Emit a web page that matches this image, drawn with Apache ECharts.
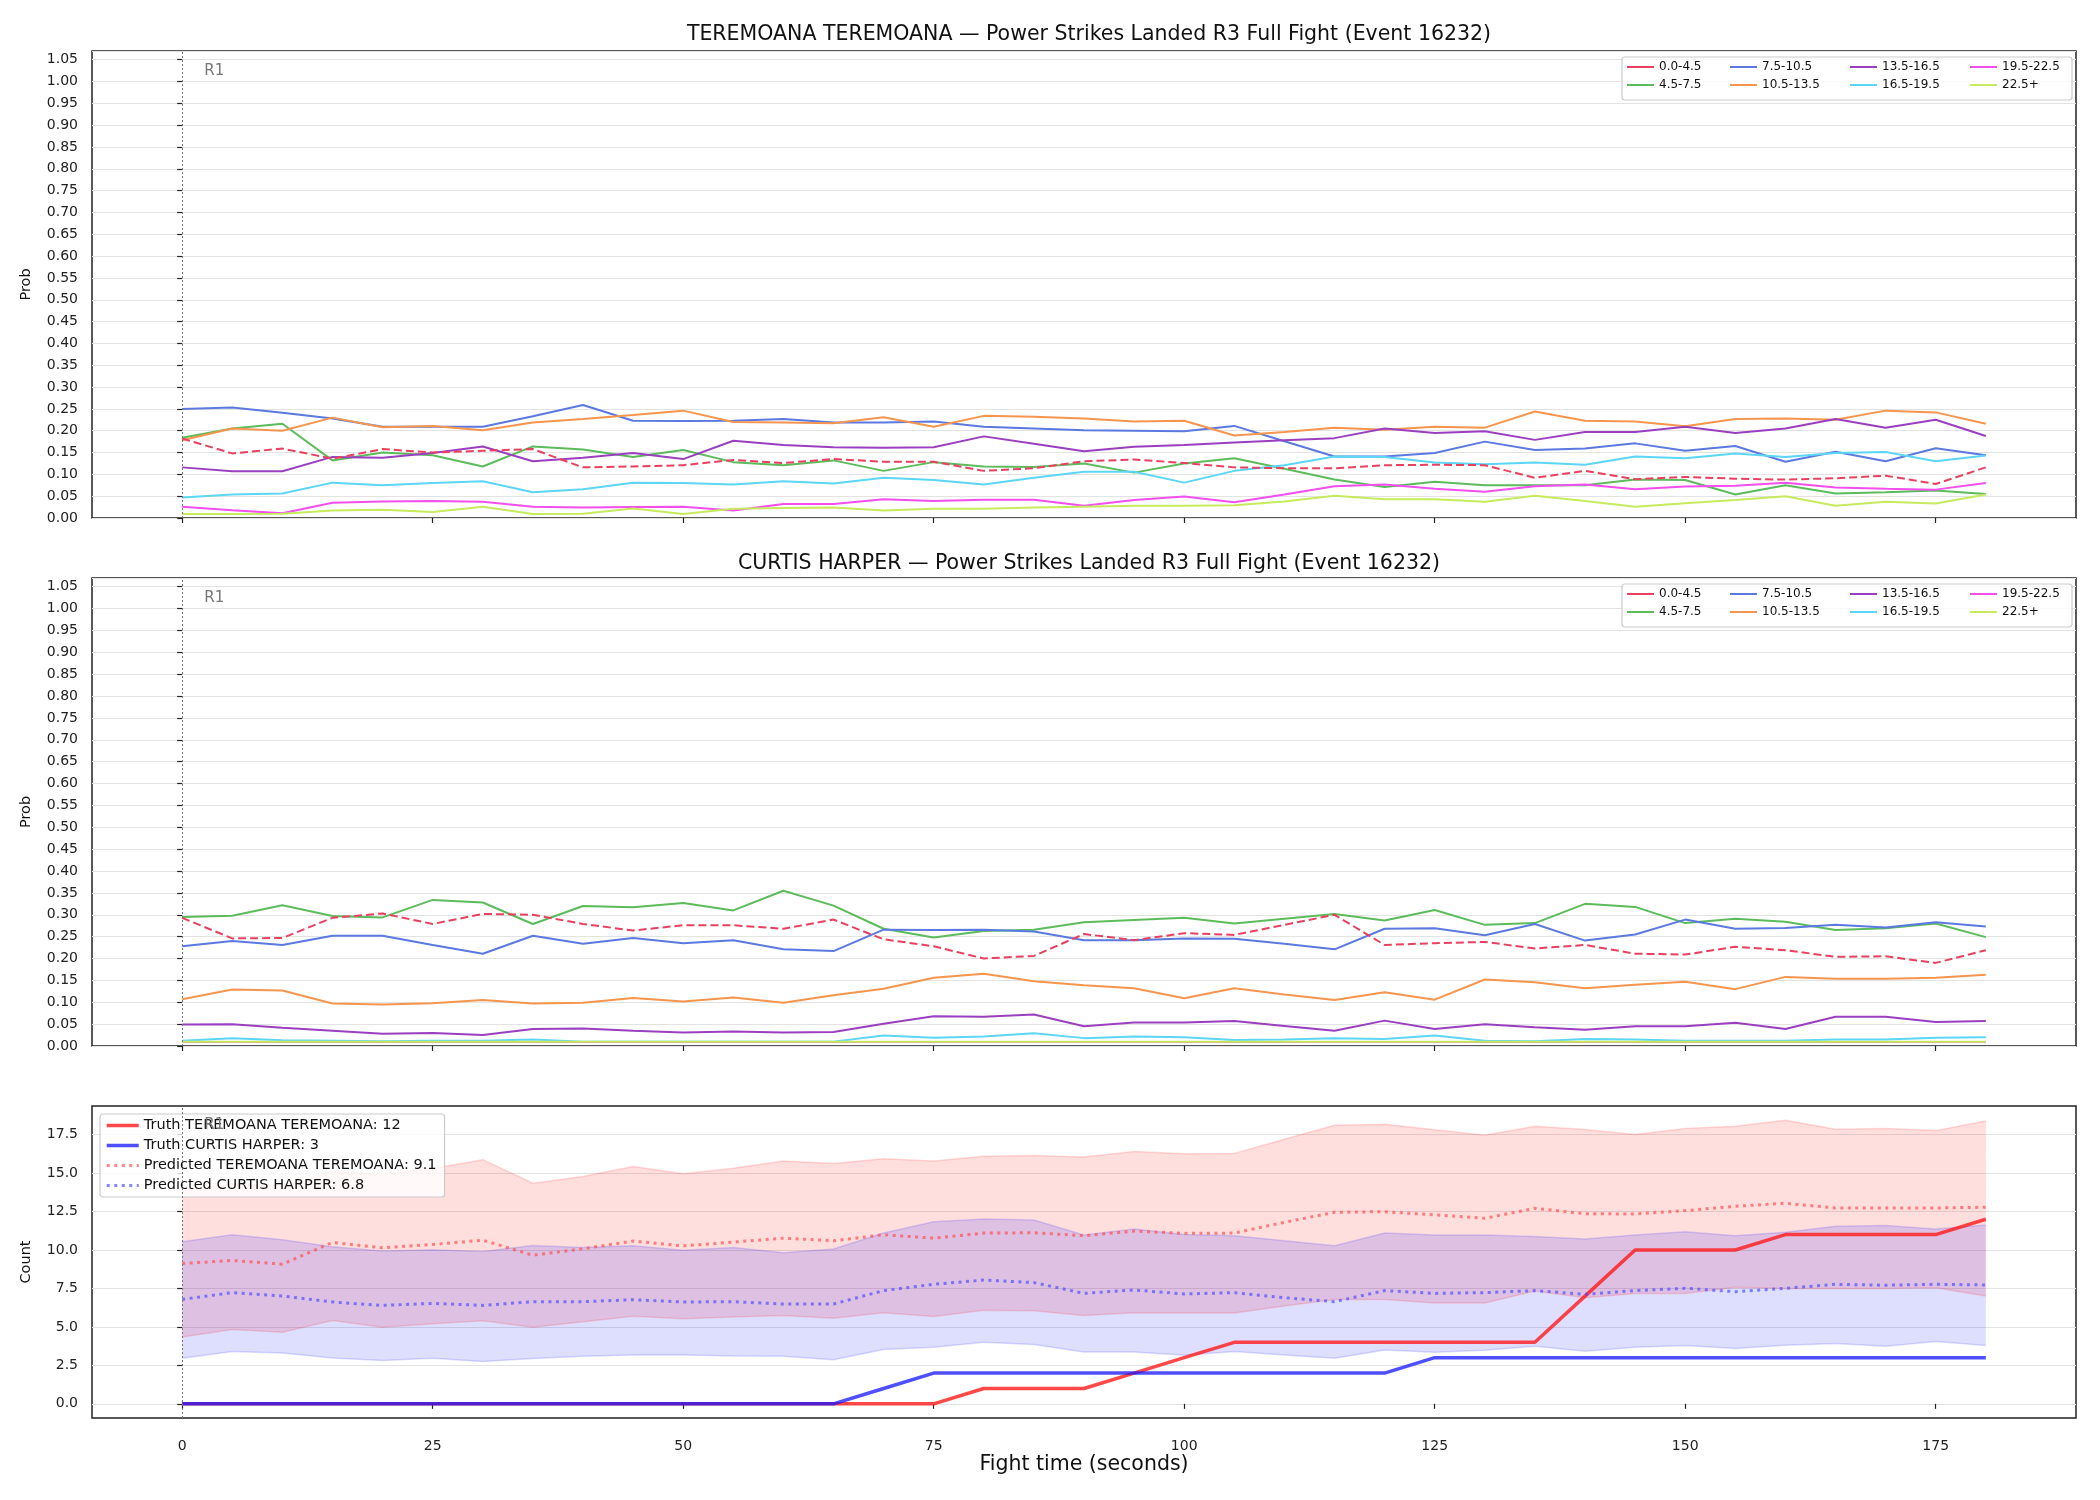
<!DOCTYPE html>
<html>
<head>
<meta charset="utf-8">
<script src="https://cdn.jsdelivr.net/npm/echarts@6/dist/echarts.min.js"></script>
<style>
html, body { margin: 0; padding: 0; background: #fff; }
#main { width: 2100px; height: 1500px; }
</style>
</head>
<body>
<div id="main"></div>
<script>
// fight time in seconds, one sample every 5 s
var times = [0, 5, 10, 15, 20, 25, 30, 35, 40, 45, 50, 55, 60, 65, 70, 75, 80, 85, 90,
    95, 100, 105, 110, 115, 120, 125, 130, 135, 140, 145, 150, 155, 160, 165, 170, 175, 180];

var binNames = ['0.0-4.5', '4.5-7.5', '7.5-10.5', '10.5-13.5', '13.5-16.5', '16.5-19.5', '19.5-22.5', '22.5+'];

// -------------------- TEREMOANA TEREMOANA bin probabilities --------------------
var teremoana0 = [0.182, 0.148, 0.159, 0.136, 0.158, 0.150, 0.154, 0.158, 0.116, 0.118, 0.121, 0.133, 0.126, 0.135, 0.129, 0.129, 0.108, 0.114,
    0.130, 0.134, 0.126, 0.116, 0.114, 0.114, 0.121, 0.122, 0.121, 0.092, 0.108, 0.089, 0.094, 0.090, 0.088, 0.091, 0.097, 0.078, 0.116];
var teremoana1 = [0.184, 0.205, 0.216, 0.132, 0.150, 0.144, 0.118, 0.164, 0.157, 0.140, 0.156, 0.128, 0.121, 0.132, 0.108, 0.128, 0.118, 0.117,
    0.125, 0.104, 0.125, 0.137, 0.113, 0.088, 0.071, 0.083, 0.075, 0.075, 0.075, 0.088, 0.087, 0.054, 0.075, 0.056, 0.059, 0.063, 0.055];
var teremoana2 = [0.250, 0.253, 0.241, 0.228, 0.209, 0.209, 0.209, 0.233, 0.259, 0.223, 0.222, 0.223, 0.227, 0.219, 0.219, 0.221, 0.209, 0.205,
    0.201, 0.200, 0.199, 0.211, 0.176, 0.141, 0.141, 0.149, 0.175, 0.156, 0.159, 0.171, 0.154, 0.165, 0.129, 0.152, 0.130, 0.160, 0.144];
var teremoana3 = [0.178, 0.205, 0.200, 0.230, 0.208, 0.211, 0.201, 0.219, 0.227, 0.236, 0.246, 0.220, 0.219, 0.217, 0.231, 0.209, 0.234, 0.232,
    0.228, 0.221, 0.223, 0.189, 0.197, 0.207, 0.202, 0.209, 0.207, 0.244, 0.223, 0.221, 0.210, 0.227, 0.228, 0.225, 0.246, 0.242, 0.216];
var teremoana4 = [0.116, 0.107, 0.107, 0.140, 0.138, 0.149, 0.164, 0.130, 0.138, 0.149, 0.135, 0.177, 0.167, 0.162, 0.161, 0.162, 0.187, 0.170,
    0.153, 0.163, 0.167, 0.173, 0.178, 0.183, 0.205, 0.195, 0.199, 0.179, 0.197, 0.197, 0.209, 0.195, 0.205, 0.227, 0.207, 0.225, 0.188];
var teremoana5 = [0.047, 0.054, 0.056, 0.081, 0.075, 0.080, 0.084, 0.059, 0.066, 0.081, 0.080, 0.077, 0.084, 0.079, 0.092, 0.087, 0.077, 0.092,
    0.106, 0.106, 0.081, 0.108, 0.121, 0.141, 0.140, 0.127, 0.123, 0.127, 0.122, 0.141, 0.137, 0.148, 0.140, 0.149, 0.151, 0.130, 0.143];
var teremoana6 = [0.026, 0.018, 0.011, 0.035, 0.038, 0.039, 0.037, 0.026, 0.024, 0.025, 0.026, 0.017, 0.032, 0.032, 0.043, 0.039, 0.042, 0.042,
    0.028, 0.041, 0.049, 0.036, 0.054, 0.073, 0.077, 0.067, 0.060, 0.073, 0.077, 0.066, 0.072, 0.074, 0.081, 0.070, 0.067, 0.065, 0.080];
var teremoana7 = [0.009, 0.009, 0.010, 0.017, 0.019, 0.014, 0.026, 0.009, 0.010, 0.022, 0.009, 0.021, 0.023, 0.024, 0.017, 0.021, 0.021, 0.024,
    0.026, 0.028, 0.028, 0.029, 0.038, 0.051, 0.043, 0.043, 0.037, 0.051, 0.039, 0.026, 0.034, 0.041, 0.050, 0.028, 0.037, 0.033, 0.054];

// -------------------- CURTIS HARPER bin probabilities --------------------
var harper0 = [0.293, 0.246, 0.247, 0.293, 0.303, 0.279, 0.302, 0.300, 0.279, 0.264, 0.276, 0.276, 0.268, 0.289, 0.244, 0.228, 0.200, 0.206,
    0.256, 0.242, 0.258, 0.254, 0.277, 0.300, 0.231, 0.235, 0.238, 0.223, 0.231, 0.211, 0.209, 0.227, 0.219, 0.204, 0.205, 0.190, 0.219];
var harper1 = [0.295, 0.298, 0.322, 0.297, 0.294, 0.334, 0.328, 0.279, 0.320, 0.317, 0.327, 0.310, 0.355, 0.321, 0.268, 0.248, 0.263, 0.266,
    0.283, 0.288, 0.293, 0.280, 0.291, 0.302, 0.287, 0.311, 0.277, 0.281, 0.325, 0.318, 0.281, 0.291, 0.284, 0.265, 0.269, 0.280, 0.249];
var harper2 = [0.228, 0.240, 0.231, 0.252, 0.252, 0.231, 0.211, 0.252, 0.234, 0.247, 0.235, 0.242, 0.221, 0.217, 0.266, 0.265, 0.266, 0.262,
    0.242, 0.242, 0.246, 0.245, 0.234, 0.221, 0.268, 0.269, 0.253, 0.279, 0.241, 0.255, 0.289, 0.268, 0.270, 0.277, 0.271, 0.283, 0.273];
var harper3 = [0.107, 0.129, 0.127, 0.097, 0.095, 0.098, 0.105, 0.097, 0.099, 0.110, 0.102, 0.111, 0.099, 0.116, 0.131, 0.156, 0.165, 0.148,
    0.139, 0.132, 0.109, 0.132, 0.118, 0.105, 0.123, 0.106, 0.152, 0.146, 0.132, 0.140, 0.147, 0.130, 0.158, 0.154, 0.154, 0.156, 0.163];
var harper4 = [0.049, 0.050, 0.042, 0.035, 0.028, 0.030, 0.025, 0.039, 0.040, 0.035, 0.031, 0.033, 0.031, 0.032, 0.051, 0.068, 0.067, 0.072,
    0.045, 0.054, 0.054, 0.057, 0.046, 0.035, 0.058, 0.039, 0.050, 0.043, 0.037, 0.045, 0.045, 0.053, 0.039, 0.067, 0.067, 0.055, 0.057];
var harper5 = [0.012, 0.018, 0.013, 0.012, 0.011, 0.012, 0.012, 0.015, 0.010, 0.010, 0.010, 0.010, 0.010, 0.010, 0.024, 0.019, 0.022, 0.029,
    0.018, 0.022, 0.020, 0.014, 0.015, 0.018, 0.016, 0.024, 0.012, 0.011, 0.016, 0.015, 0.012, 0.012, 0.012, 0.015, 0.015, 0.019, 0.020];
var harper6 = [0.009, 0.009, 0.009, 0.009, 0.009, 0.009, 0.009, 0.009, 0.009, 0.009, 0.009, 0.009, 0.009, 0.009, 0.009, 0.009, 0.009, 0.009,
    0.009, 0.009, 0.009, 0.009, 0.009, 0.009, 0.009, 0.009, 0.009, 0.009, 0.009, 0.009, 0.009, 0.009, 0.009, 0.009, 0.009, 0.009, 0.009];
var harper7 = [0.010, 0.010, 0.010, 0.010, 0.010, 0.010, 0.010, 0.010, 0.010, 0.010, 0.010, 0.010, 0.010, 0.010, 0.010, 0.010, 0.010, 0.010,
    0.010, 0.010, 0.010, 0.010, 0.010, 0.010, 0.010, 0.010, 0.010, 0.010, 0.010, 0.010, 0.010, 0.010, 0.010, 0.010, 0.010, 0.010, 0.010];

// -------------------- cumulative counts --------------------
var truthTeremoana = [0, 0, 0, 0, 0, 0, 0, 0, 0, 0, 0, 0, 0, 0, 0, 0, 1, 1, 1,
    2, 3, 4, 4, 4, 4, 4, 4, 4, 7, 10, 10, 10, 11, 11, 11, 11, 12];
var truthHarper = [0, 0, 0, 0, 0, 0, 0, 0, 0, 0, 0, 0, 0, 0, 1, 2, 2, 2, 2,
    2, 2, 2, 2, 2, 2, 3, 3, 3, 3, 3, 3, 3, 3, 3, 3, 3, 3];
var predTeremoana = [9.12, 9.32, 9.08, 10.49, 10.14, 10.36, 10.64, 9.66, 10.08, 10.58, 10.27, 10.51, 10.77, 10.60, 10.99, 10.77, 11.10, 11.12,
    10.93, 11.23, 11.08, 11.10, 11.80, 12.45, 12.49, 12.28, 12.06, 12.71, 12.36, 12.34, 12.56, 12.84, 13.04, 12.73, 12.73, 12.73, 12.78];
var predHarper = [6.79, 7.23, 7.01, 6.62, 6.40, 6.53, 6.40, 6.64, 6.64, 6.77, 6.62, 6.64, 6.49, 6.49, 7.36, 7.77, 8.05, 7.88,
    7.18, 7.40, 7.14, 7.23, 6.90, 6.64, 7.36, 7.18, 7.23, 7.36, 7.12, 7.36, 7.51, 7.29, 7.51, 7.77, 7.71, 7.77, 7.73];
var hiTeremoana = [13.9, 14.3, 14.2, 15.1, 14.9, 15.3, 15.87, 14.34, 14.78, 15.43, 14.95, 15.32, 15.78, 15.63, 15.93, 15.78, 16.09, 16.15,
    16.04, 16.41, 16.26, 16.28, 17.20, 18.11, 18.18, 17.81, 17.46, 18.05, 17.83, 17.50, 17.89, 18.05, 18.44, 17.85, 17.89, 17.76, 18.39];
var loTeremoana = [4.35, 4.83, 4.66, 5.42, 4.98, 5.20, 5.40, 4.98, 5.33, 5.70, 5.53, 5.64, 5.75, 5.57, 5.92, 5.68, 6.09, 6.05,
    5.75, 5.92, 5.90, 5.90, 6.36, 6.79, 6.79, 6.55, 6.55, 7.34, 6.90, 7.18, 7.18, 7.58, 7.49, 7.49, 7.49, 7.55, 7.01];
var hiHarper = [10.54, 10.99, 10.67, 10.21, 9.93, 10.01, 9.90, 10.30, 10.17, 10.27, 9.99, 10.17, 9.82, 10.06, 11.10, 11.84, 12.02, 11.95,
    10.97, 11.36, 11.01, 10.93, 10.60, 10.27, 11.10, 10.97, 10.97, 10.88, 10.71, 10.97, 11.19, 10.93, 11.15, 11.54, 11.60, 11.36, 11.62];
var loHarper = [2.96, 3.40, 3.31, 2.98, 2.81, 2.96, 2.76, 2.94, 3.09, 3.18, 3.18, 3.11, 3.09, 2.87, 3.53, 3.68, 4.01, 3.85,
    3.37, 3.37, 3.16, 3.40, 3.18, 2.96, 3.50, 3.35, 3.48, 3.74, 3.42, 3.68, 3.79, 3.59, 3.81, 3.92, 3.74, 4.05, 3.79];

var xTicks = [0, 25, 50, 75, 100, 125, 150, 175];
var countTicks = [0, 2.5, 5, 7.5, 10, 12.5, 15, 17.5];

var teremoanaBins = [teremoana0, teremoana1, teremoana2, teremoana3, teremoana4, teremoana5, teremoana6, teremoana7];
var harperBins = [harper0, harper1, harper2, harper3, harper4, harper5, harper6, harper7];

var binColors = ['#e8405e', '#5cbc5c', '#5b79e0', '#f6954e', '#9b3fc1', '#5cd6f4', '#f24fee', '#c6eb5e'];
var font = 'DejaVu Sans';

function pairs(vals) {
    return times.map(function (t, i) { return [t, vals[i]]; });
}

// vertical dotted line at round start + "R1" text
function roundMark(ry) {
    return {
        markLine: {
            silent: true, symbol: 'none', animation: false,
            label: {show: false},
            lineStyle: {color: '#777', type: [2, 2], width: 1},
            data: [{xAxis: 0}]
        },
        markPoint: {
            silent: true, symbol: 'circle', symbolSize: 0, animation: false,
            label: {show: true, position: 'right', distance: 5, formatter: 'R1', color: '#777', fontSize: 15, fontFamily: font},
            data: [{coord: [1.7, ry]}]
        }
    };
}

function binSeries(bins, gridIdx) {
    var out = [];
    for (var i = 0; i < bins.length; i++) {
        var s = {
            name: binNames[i],
            type: 'line',
            xAxisIndex: gridIdx,
            yAxisIndex: gridIdx,
            data: pairs(bins[i]),
            symbol: 'none',
            color: binColors[i],
            lineStyle: {width: 2, color: binColors[i], type: i == 0 ? [8, 4] : 'solid'},
            z: i == 0 ? 3 : 2
        };
        if (i == 0) {
            var m = roundMark(1.025);
            s.markLine = m.markLine;
            s.markPoint = m.markPoint;
        }
        out.push(s);
    }
    return out;
}

function xAxisFor(gridIdx, showLabels) {
    return {
        type: 'value', gridIndex: gridIdx, min: -9, max: 189,
        axisLine: {show: false},
        axisTick: {show: true, length: 5, customValues: xTicks, lineStyle: {color: '#222', width: 1.2}},
        axisLabel: {show: showLabels, customValues: xTicks, fontSize: 14, color: '#222', margin: 21, fontFamily: font},
        splitLine: {show: false},
        name: showLabels ? 'Fight time (seconds)' : '',
        nameLocation: 'middle', nameGap: 36,
        nameTextStyle: {fontSize: 20.5, color: '#111', fontFamily: font}
    };
}

function probAxis(gridIdx) {
    return {
        type: 'value', gridIndex: gridIdx, min: 0, max: 1.07, interval: 0.05,
        axisLine: {show: false},
        axisTick: {show: true, length: 5, lineStyle: {color: '#222', width: 1.2}},
        axisLabel: {fontSize: 14, color: '#222', margin: 14, showMaxLabel: false, fontFamily: font,
            formatter: function (v) { return v.toFixed(2); }},
        splitLine: {lineStyle: {color: '#e3e3e3', width: 1}},
        name: 'Prob', nameLocation: 'middle', nameGap: 58,
        nameTextStyle: {fontSize: 14.5, color: '#111', fontFamily: font}
    };
}

// matplotlib-like 4 column legend: one small vertical legend per column
var legendCols = [1627, 1730, 1850, 1970];
function binLegends(top) {
    var out = [];
    for (var c = 0; c < 4; c++) {
        out.push({
            show: true, left: legendCols[c], top: top, orient: 'vertical',
            padding: 0, itemWidth: 27, itemHeight: 2, itemGap: 6,
            icon: 'rect', z: 10,
            textStyle: {fontSize: 12, color: '#111', fontFamily: font},
            data: [binNames[2 * c], binNames[2 * c + 1]]
        });
    }
    return out;
}

function legendBox(y) {
    return {
        type: 'rect', z: 9, silent: true,
        shape: {x: 1622, y: y, width: 450, height: 43, r: 3},
        style: {fill: 'rgba(255,255,255,0.8)', stroke: '#cccccc', lineWidth: 1.2}
    };
}

// shaded prediction interval, drawn as one polygon through the axis scales
function bandSeries(lo, hi, fill) {
    return {
        type: 'custom', xAxisIndex: 2, yAxisIndex: 2, z: 1, silent: true,
        data: times.map(function (t, i) { return [t, lo[i], hi[i]]; }),
        encode: {x: 0, y: [1, 2]},
        renderItem: function (params, api) {
            if (params.dataIndex !== 0) return null;
            var pts = [];
            for (var i = 0; i < times.length; i++) pts.push(api.coord([times[i], hi[i]]));
            for (var j = times.length - 1; j >= 0; j--) pts.push(api.coord([times[j], lo[j]]));
            return {type: 'polygon', shape: {points: pts}, style: {fill: fill}};
        }
    };
}

function edgeSeries(vals, color) {
    return {
        type: 'line', xAxisIndex: 2, yAxisIndex: 2, symbol: 'none', silent: true, z: 1,
        data: pairs(vals), lineStyle: {color: color, width: 1.5}
    };
}

var bandRed = 'rgba(255,0,0,0.13)';
var bandRedEdge = 'rgba(255,0,0,0.14)';
var bandBlue = 'rgba(0,0,255,0.13)';
var bandBlueEdge = 'rgba(0,0,255,0.14)';

var firstEdge = edgeSeries(loTeremoana, bandRedEdge);
firstEdge.markLine = roundMark(18.1).markLine;
firstEdge.markPoint = roundMark(18.1).markPoint;

var truthRed = 'rgba(255,20,20,0.78)';
var truthBlue = 'rgba(20,20,255,0.75)';
var predRed = 'rgba(255,70,70,0.65)';
var predBlue = 'rgba(70,70,255,0.65)';

var countSeries = [
    bandSeries(loTeremoana, hiTeremoana, bandRed),
    firstEdge,
    edgeSeries(hiTeremoana, bandRedEdge),
    bandSeries(loHarper, hiHarper, bandBlue),
    edgeSeries(loHarper, bandBlueEdge),
    edgeSeries(hiHarper, bandBlueEdge),
    {
        name: 'Truth TEREMOANA TEREMOANA: 12', type: 'line', xAxisIndex: 2, yAxisIndex: 2, symbol: 'none',
        data: pairs(truthTeremoana), color: truthRed,
        lineStyle: {color: truthRed, width: 3.5}, z: 3
    },
    {
        name: 'Truth CURTIS HARPER: 3', type: 'line', xAxisIndex: 2, yAxisIndex: 2, symbol: 'none',
        data: pairs(truthHarper), color: truthBlue,
        lineStyle: {color: truthBlue, width: 3.5}, z: 3
    },
    {
        name: 'Predicted TEREMOANA TEREMOANA: 9.1', type: 'line', xAxisIndex: 2, yAxisIndex: 2, symbol: 'none',
        data: pairs(predTeremoana), color: predRed,
        lineStyle: {color: predRed, width: 3, type: [3, 4.5]}, z: 4
    },
    {
        name: 'Predicted CURTIS HARPER: 6.8', type: 'line', xAxisIndex: 2, yAxisIndex: 2, symbol: 'none',
        data: pairs(predHarper), color: predBlue,
        lineStyle: {color: predBlue, width: 3, type: [3, 4.5]}, z: 4
    }
];

var chart = echarts.init(document.getElementById('main'));
var option = {
    animation: false,
    backgroundColor: '#ffffff',
    textStyle: {fontFamily: font},
    title: [
        {text: 'TEREMOANA TEREMOANA — Power Strikes Landed R3 Full Fight (Event 16232)', left: 1084, top: 19, textAlign: 'center',
            textStyle: {fontSize: 20.5, fontWeight: 'normal', color: '#111', fontFamily: font}},
        {text: 'CURTIS HARPER — Power Strikes Landed R3 Full Fight (Event 16232)', left: 1084, top: 548, textAlign: 'center',
            textStyle: {fontSize: 20.5, fontWeight: 'normal', color: '#111', fontFamily: font}}
    ],
    grid: [
        {left: 92, top: 51, width: 1984, height: 467, show: true, borderColor: '#222', borderWidth: 1.5},
        {left: 92, top: 578, width: 1984, height: 468, show: true, borderColor: '#222', borderWidth: 1.5},
        {left: 92, top: 1106, width: 1984, height: 312, show: true, borderColor: '#222', borderWidth: 1.5}
    ],
    graphic: [legendBox(57), legendBox(584)],
    legend: binLegends(61).concat(binLegends(588)).concat([
        {
            show: true, left: 100, top: 1114, orient: 'vertical',
            padding: [4, 8, 4, 5], itemWidth: 32, itemHeight: 1, itemGap: 5,
            itemStyle: {opacity: 0},
            backgroundColor: 'rgba(255,255,255,0.8)',
            borderColor: '#cccccc', borderWidth: 1.2, borderRadius: 3,
            textStyle: {fontSize: 14.5, color: '#111', fontFamily: font},
            data: [
                {name: 'Truth TEREMOANA TEREMOANA: 12', lineStyle: {width: 3.5, color: truthRed}},
                {name: 'Truth CURTIS HARPER: 3', lineStyle: {width: 3.5, color: truthBlue}},
                {name: 'Predicted TEREMOANA TEREMOANA: 9.1', lineStyle: {width: 3, color: predRed, type: [3, 4.5]}},
                {name: 'Predicted CURTIS HARPER: 6.8', lineStyle: {width: 3, color: predBlue, type: [3, 4.5]}}
            ]
        }
    ]),
    xAxis: [xAxisFor(0, false), xAxisFor(1, false), xAxisFor(2, true)],
    yAxis: [
        probAxis(0),
        probAxis(1),
        {
            type: 'value', gridIndex: 2, min: -0.92, max: 19.36,
            axisLine: {show: false},
            axisTick: {show: true, length: 5, customValues: countTicks, lineStyle: {color: '#222', width: 1.2}},
            axisLabel: {customValues: countTicks, fontSize: 14, color: '#222', margin: 14, fontFamily: font,
                formatter: function (v) { return v.toFixed(1); }},
            splitLine: {lineStyle: {color: '#e3e3e3', width: 1}},
            name: 'Count', nameLocation: 'middle', nameGap: 58,
            nameTextStyle: {fontSize: 14.5, color: '#111', fontFamily: font}
        }
    ],
    series: binSeries(teremoanaBins, 0).concat(binSeries(harperBins, 1)).concat(countSeries)
};
chart.setOption(option);
</script>
</body>
</html>
